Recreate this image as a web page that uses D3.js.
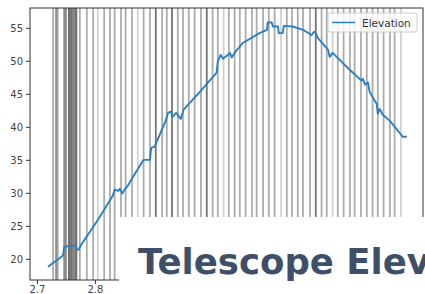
<!DOCTYPE html>
<html>
<head>
<meta charset="utf-8">
<script src="https://cdnjs.cloudflare.com/ajax/libs/d3/7.8.5/d3.min.js"></script>
<style>
    body { margin: 0; background: #fff; }
    #chart { width: 425px; height: 294px; overflow: hidden; }
    text { font-family: "DejaVu Sans", sans-serif; }
</style>
</head>
<body>
<div id="chart"></div>
<script>
// elevation trace (time in hours, elevation in degrees)
const timeValues = [2.719, 2.733, 2.745, 2.747, 2.757, 2.767, 2.769, 2.772, 2.776, 2.805,
    2.831, 2.834, 2.840, 2.843, 2.847, 2.852, 2.857, 2.869, 2.884, 2.895,
    2.897, 2.903, 2.922, 2.926, 2.931, 2.934, 2.940, 2.943, 2.948, 2.953,
    2.981, 3.010, 3.012, 3.017, 3.021, 3.028, 3.033, 3.036, 3.041, 3.055,
    3.084, 3.097, 3.098, 3.105, 3.107, 3.116, 3.117, 3.124, 3.126, 3.141,
    3.159, 3.174, 3.178, 3.181, 3.184, 3.193, 3.202, 3.205, 3.210, 3.217,
    3.240, 3.260, 3.262, 3.266, 3.271, 3.274, 3.281, 3.286, 3.288, 3.291,
    3.297, 3.309, 3.331, 3.338];
const elevationValues = [18.8, 19.7, 20.5, 21.8, 22.0, 22.0, 21.4, 21.4, 22.1, 25.9,
    29.6, 30.5, 30.3, 30.6, 29.9, 30.6, 31.1, 32.9, 35.0, 35.0,
    36.8, 37.0, 40.9, 42.1, 42.3, 41.5, 42.1, 41.8, 41.2, 42.6,
    45.3, 48.2, 49.9, 50.9, 50.3, 50.8, 51.2, 50.5, 51.2, 52.7,
    54.2, 54.7, 55.8, 55.8, 55.2, 55.2, 54.2, 54.2, 55.3, 55.2,
    54.7, 53.9, 54.4, 54.2, 53.5, 52.6, 51.7, 50.6, 51.2, 50.6,
    48.6, 47.0, 47.3, 46.4, 46.7, 45.3, 44.2, 43.5, 42.0, 42.7,
    41.8, 40.9, 38.5, 38.5];

// exposure events marked as vertical lines, with number of overlapping events
const eventTimes = [2.728, 2.733, 2.736, 2.747, 2.750, 2.755, 2.757, 2.759, 2.760, 2.762,
    2.764, 2.766, 2.768, 2.774, 2.786, 2.797, 2.805, 2.816, 2.826, 2.834,
    2.845, 2.853, 2.864, 2.874, 2.884, 2.895, 2.905, 2.916, 2.924, 2.933,
    2.943, 2.952, 2.962, 2.972, 2.983, 2.993, 3.003, 3.012, 3.022, 3.031,
    3.041, 3.050, 3.060, 3.071, 3.079, 3.090, 3.100, 3.110, 3.121, 3.131,
    3.140, 3.150, 3.159, 3.171, 3.181, 3.191, 3.200, 3.210, 3.219, 3.229,
    3.240, 3.248, 3.259, 3.269, 3.279, 3.288, 3.298, 3.309, 3.317, 3.328];
const eventCounts = [2, 3, 2, 3, 3, 4, 2, 2, 2, 2,
    2, 2, 4, 2, 2, 2, 1, 2, 2, 2,
    2, 2, 2, 1, 2, 2, 4, 2, 2, 4,
    2, 2, 2, 2, 2, 4, 2, 2, 1, 2,
    2, 2, 2, 2, 2, 2, 2, 2, 1, 2,
    2, 2, 2, 2, 4, 2, 2, 1, 2, 2,
    2, 2, 2, 2, 2, 2, 2, 2, 2, 1];

const yTicks = [20, 25, 30, 35, 40, 45, 50, 55];
const xTicks = [2.7, 2.8, 2.9, 3.0, 3.1, 3.2, 3.3];
const seriesName = "Elevation";
const titleText = "Telescope Elevation";

class ElevationChart {
    constructor(parentElement) {
        this.parentElement = parentElement;
        this.initVis();
    }

    initVis() {
        let vis = this;
        vis.width = 425;
        vis.height = 294;
        vis.margin = {top: 8, right: 2, bottom: 14, left: 30};

        vis.svg = d3.select("#" + vis.parentElement).append("svg")
            .attr("width", vis.width)
            .attr("height", vis.height);

        vis.x = d3.scaleLinear()
            .domain([2.688, 3.366])
            .range([vis.margin.left, vis.width - vis.margin.right]);
        vis.y = d3.scaleLinear()
            .domain([16.8, 58.0])
            .range([vis.height - vis.margin.bottom, vis.margin.top]);

        vis.wrangleData();
    }

    wrangleData() {
        let vis = this;
        vis.points = timeValues.map((t, i) => ({t: t, el: elevationValues[i]}));
        vis.events = eventTimes.map((t, i) => ({t: t, n: eventCounts[i]}));
        vis.updateVis();
    }

    updateVis() {
        let vis = this;
        let x0 = vis.margin.left, x1 = vis.width - vis.margin.right;
        let y0 = vis.margin.top, y1 = vis.height - vis.margin.bottom;

        // event lines
        vis.svg.append("g").selectAll("line")
            .data(vis.events)
            .enter().append("line")
            .attr("x1", d => vis.x(d.t)).attr("x2", d => vis.x(d.t))
            .attr("y1", y0).attr("y2", y1)
            .attr("stroke", "#000")
            .attr("stroke-width", 1.8)
            .attr("stroke-opacity", d => 1 - Math.pow(0.82, d.n));

        // elevation line
        let line = d3.line().x(d => vis.x(d.t)).y(d => vis.y(d.el));
        vis.svg.append("path")
            .datum(vis.points)
            .attr("d", line)
            .attr("fill", "none")
            .attr("stroke", "#2a7fc0")
            .attr("stroke-width", 1.9)
            .attr("stroke-linejoin", "round");

        // axes
        let yAxis = vis.svg.append("g")
            .attr("transform", `translate(${x0},0)`)
            .call(d3.axisLeft(vis.y).tickValues(yTicks).tickSize(4).tickPadding(3));
        let xAxis = vis.svg.append("g")
            .attr("transform", `translate(0,${y1})`)
            .call(d3.axisBottom(vis.x).tickValues(xTicks).tickFormat(d3.format(".1f")).tickSize(4).tickPadding(2));
        [xAxis, yAxis].forEach(a => {
            a.select(".domain").remove();
            a.selectAll("line").attr("stroke", "#333");
            a.selectAll("text").attr("fill", "#444").style("font-size", "10px");
        });

        // frame
        vis.svg.append("rect")
            .attr("x", x0).attr("y", y0)
            .attr("width", x1 - x0).attr("height", y1 - y0)
            .attr("fill", "none")
            .attr("stroke", "#333")
            .attr("stroke-width", 1);

        // legend
        let lg = vis.svg.append("g").attr("transform", "translate(328,13)");
        lg.append("rect")
            .attr("width", 89).attr("height", 19).attr("rx", 2)
            .attr("fill", "#fff").attr("fill-opacity", 0.8)
            .attr("stroke", "#ccc");
        lg.append("line")
            .attr("x1", 4).attr("x2", 27).attr("y1", 9.5).attr("y2", 9.5)
            .attr("stroke", "#2a7fc0").attr("stroke-width", 1.5);
        lg.append("text")
            .attr("x", 34).attr("y", 13.5)
            .attr("fill", "#333")
            .style("font-size", "10.5px")
            .text(seriesName);

        // title card laid over the lower right
        vis.svg.append("rect")
            .attr("x", 119).attr("y", 217)
            .attr("width", vis.width - 119).attr("height", vis.height - 217)
            .attr("fill", "#fff");
        vis.svg.append("text")
            .attr("x", 138).attr("y", 274)
            .attr("fill", "#3e4f67")
            .style("font-family", "'DejaVu Sans', sans-serif")
            .style("font-weight", "bold")
            .style("font-size", "35.5px")
            .text(titleText);
    }
}

new ElevationChart("chart");
</script>
</body>
</html>
